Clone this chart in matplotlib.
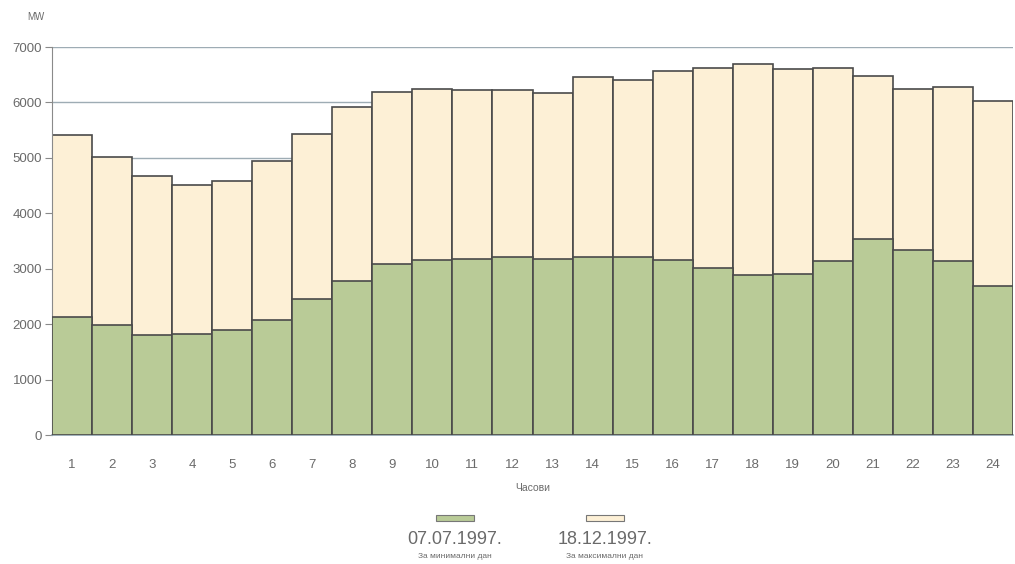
"""Daily load diagram: minimum and maximum day, 1997."""
import matplotlib
matplotlib.use("Agg")
import matplotlib.pyplot as plt

hours = list(range(1, 25))
max_day = [5420, 5010, 4670, 4510, 4590, 4950, 5430, 5920, 6190, 6250, 6230, 6220,
           6170, 6450, 6410, 6560, 6630, 6690, 6610, 6620, 6480, 6250, 6270, 6020]
min_day = [2120, 1990, 1800, 1830, 1890, 2070, 2450, 2770, 3080, 3150, 3180, 3220,
           3180, 3220, 3220, 3160, 3010, 2890, 2910, 3140, 3540, 3340, 3140, 2680]
y_ticks = [0, 1000, 2000, 3000, 4000, 5000, 6000, 7000]
legend_dates = ["07.07.1997.", "18.12.1997."]
legend_notes = ["За минимални дан", "За максимални дан"]

GREEN = "#b9cb97"
CREAM = "#fdf0d6"
EDGE = "#4a4a4a"
TXT = "#6a6a6a"

plt.rcParams["font.family"] = ["Liberation Sans", "DejaVu Sans"]

fig = plt.figure(figsize=(10.15, 5.64), dpi=100)
ax = fig.add_axes([52 / 1015, 129 / 564, 961 / 1015, 388 / 564])

# max day behind, min day in front
ax.bar(hours, max_day, width=1.0, color=CREAM, edgecolor=EDGE, linewidth=1.2, zorder=2)
ax.bar(hours, min_day, width=1.0, color=GREEN, edgecolor=EDGE, linewidth=1.2, zorder=3)

ax.set_xlim(0.5, 24.5)
ax.set_ylim(0, 7000)
ax.set_yticks(y_ticks)
ax.set_xticks(hours)
ax.yaxis.grid(True, color="#9eacb4", linewidth=1.0, zorder=0)
ax.set_axisbelow(True)

for s in ["top", "right"]:
    ax.spines[s].set_visible(False)
ax.spines["left"].set_color("#8a8a8a")
ax.spines["bottom"].set_color("#8ea2ae")
ax.spines["bottom"].set_linewidth(1.2)
ax.tick_params(axis="y", colors="#8a8a8a", labelcolor=TXT, labelsize=9.5, length=5, pad=2)
ax.tick_params(axis="x", length=0, labelcolor=TXT, labelsize=9.5, pad=17)

ax.set_xlabel("Часови", fontsize=7.5, color=TXT, labelpad=9)
fig.text(27 / 1015, 1 - 17 / 564, "MW", fontsize=7, color=TXT, ha="left", va="center")

# legend drawn by hand below the axis
for cx, col, date, note in zip([455, 605], [GREEN, CREAM], legend_dates, legend_notes):
    fig.patches.append(plt.Rectangle(((cx - 19) / 1015, 1 - 521 / 564), 38 / 1015, 6 / 564,
                                     transform=fig.transFigure, facecolor=col,
                                     edgecolor="#777777", linewidth=0.8))
    fig.text(cx / 1015, 1 - 540 / 564, date, fontsize=13, color=TXT, ha="center", va="center")
    fig.text(cx / 1015, 1 - 557 / 564, note, fontsize=6, color=TXT, ha="center", va="center")

fig.savefig("out.png", dpi=100)
